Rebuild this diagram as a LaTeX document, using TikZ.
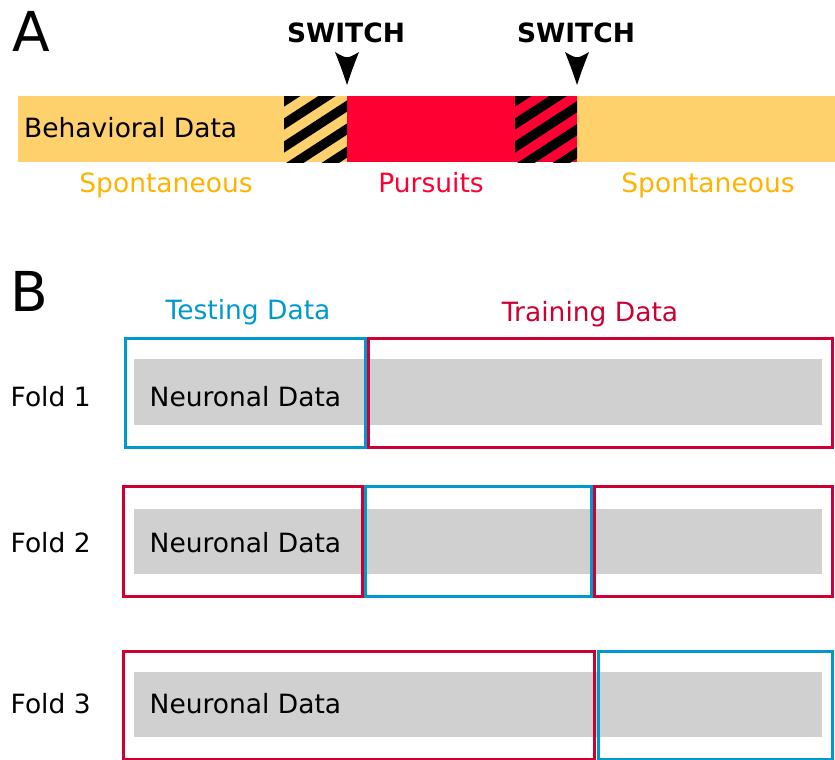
\documentclass[tikz,border=0pt]{standalone}
\usepackage{fontspec}
\setmainfont{DejaVu Sans}
\usetikzlibrary{calc}
\definecolor{behav}{RGB}{254,209,109}
\definecolor{pursuit}{RGB}{255,0,51}
\definecolor{spont}{RGB}{255,179,0}
\definecolor{testcol}{RGB}{0,153,204}
\definecolor{traincol}{RGB}{204,0,51}
\definecolor{neurgray}{RGB}{208,208,208}
\tikzstyle{lbl}=[inner sep=0pt, anchor=base, font=\fontsize{26.5}{30}\selectfont]
\tikzstyle{lblw}=[lbl, anchor=base west]
\tikzstyle{panel}=[inner sep=0pt, anchor=base west, font=\fontsize{55}{60}\selectfont]
\tikzstyle{foldbox}=[line width=3pt]

\begin{document}
\begin{tikzpicture}[x=1pt,y=-1pt]
\useasboundingbox (0,0) rectangle (835,760);
% panel A
\node[panel] (labA) at (12,52) {A};
\fill[behav] (18,96) rectangle (835,162);
\fill[pursuit] (347,96) rectangle (577,162);
\foreach \xa/\xb in {284/347, 515/577}{
\begin{scope} % hatched switch zone
\clip (\xa,96) rectangle (\xb,162);
\foreach \k in {-1,...,6} \draw[line width=9.5pt] (\xa-60,140+23*\k) -- ++(200,-130);
\end{scope}
}
\foreach \name/\xpos in {swa/347, swb/577}{
\node[lbl, font=\fontsize{26.5}{30}\selectfont\bfseries] (\name) at (\xpos-1,43) {SWITCH};
\fill (\xpos,85) .. controls (\xpos-5,70) .. (\xpos-12,52)
  .. controls (\xpos,59) .. (\xpos+12,52)
  .. controls (\xpos+5,70) .. (\xpos,85) -- cycle;
}
\node[lblw] (behavlbl) at (24,137) {Behavioral Data};
\node[lbl, text=spont] (spont1) at (166,192) {Spontaneous};
\node[lbl, text=pursuit] (purs) at (431,192) {Pursuits};
\node[lbl, text=spont] (spont2) at (708,192) {Spontaneous};
% panel B
\node[panel] (labB) at (10,311) {B};
\node[lbl, text=testcol] (testlbl) at (248,319) {Testing Data};
\node[lbl, text=traincol] (trainlbl) at (590,321) {Training Data};
\foreach \top/\bot in {359/425, 509/574, 672/737} \fill[neurgray] (134,\top) rectangle (822,\bot);
\draw[foldbox, testcol] (125.5,338) rectangle (365.5,447);
\draw[foldbox, traincol] (368.5,338) rectangle (832.5,447);
\draw[foldbox, traincol] (123.5,486) rectangle (362,596.5);
\draw[foldbox, testcol] (365,486) rectangle (591.5,596.5);
\draw[foldbox, traincol] (594.5,486) rectangle (832.5,596.5);
\draw[foldbox, traincol] (123.5,651) rectangle (594.5,759);
\draw[foldbox, testcol] (598,651) rectangle (832.5,759);
\foreach \n/\base in {1/406, 2/552.5, 3/713}{
\node[lblw] (fold\n) at (10.5,\base) {Fold \n};
\node[lblw] (neur\n) at (149.5,\base) {Neuronal Data};
}
\end{tikzpicture}
\end{document}
